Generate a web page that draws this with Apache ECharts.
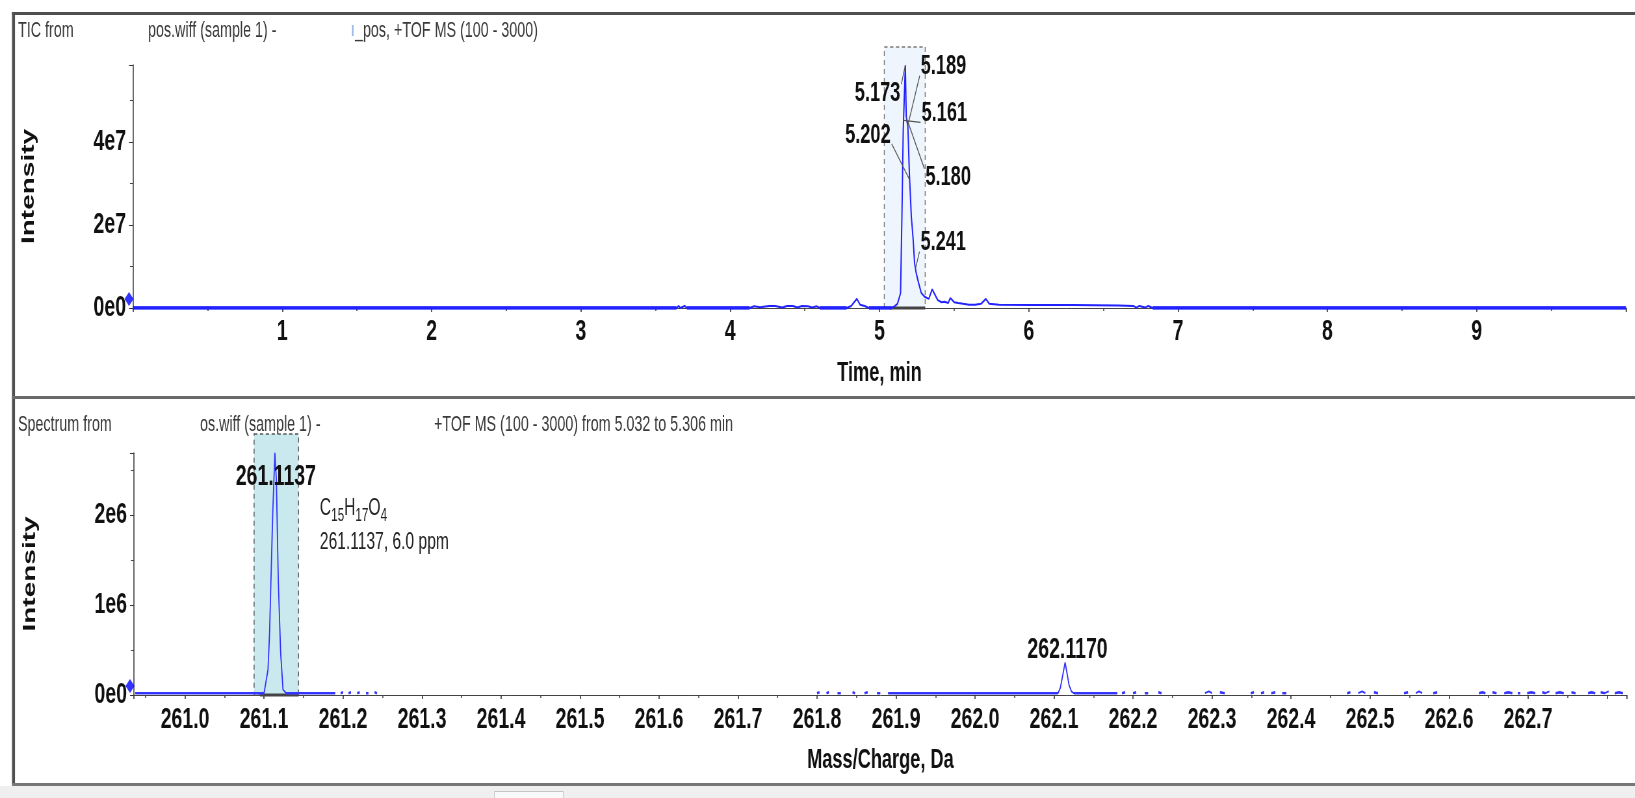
<!DOCTYPE html>
<html>
<head>
<meta charset="utf-8">
<script src="https://cdn.jsdelivr.net/npm/echarts@6/dist/echarts.min.js"></script>
<style>
html,body{margin:0;padding:0;background:#fff;overflow:hidden;width:1635px;height:798px}
#c{width:2515px;height:798px;transform:scaleX(0.65);transform-origin:0 0}
</style>
</head>
<body>
<div id="c"></div>
<script>
// ================= DATA =================
// TIC trace: [time (min), intensity (x1e7)]
const ticPoints = [
  [0.00,0],[3.64,0],[3.655,0.05],[3.665,0],[3.695,0.05],[3.71,0],
  [4.13,0],[4.16,0.04],[4.20,0.02],[4.26,0.05],[4.30,0.05],[4.35,0.01],[4.38,0.05],[4.42,0.05],
  [4.45,0.01],[4.48,0.05],[4.52,0.04],[4.55,0.01],[4.58,0.04],[4.60,0],
  [4.78,0],[4.81,0.05],[4.848,0.22],[4.87,0.08],[4.90,0.05],[4.93,0],
  [5.08,0],[5.10,0.04],[5.12,0.10],[5.141,0.36],[5.15,2.2],[5.159,4.3],[5.173,5.85],
  [5.179,4.61],[5.19,4.37],[5.20,3.25],[5.213,2.2],[5.224,1.72],[5.235,1.08],[5.246,0.84],
  [5.262,0.60],[5.28,0.36],[5.302,0.27],[5.33,0.22],[5.353,0.45],[5.39,0.19],[5.415,0.14],
  [5.436,0.15],[5.46,0.12],[5.474,0.24],[5.50,0.14],[5.527,0.12],[5.56,0.10],[5.60,0.08],
  [5.64,0.08],[5.68,0.10],[5.712,0.22],[5.735,0.10],[5.80,0.08],[6.00,0.07],[6.30,0.07],
  [6.60,0.06],[6.70,0.05],[6.72,0.01],[6.74,0.05],[6.78,0.01],[6.80,0.05],[6.83,0],[10.0,0]
];
const ticScale = 1e7;
const ticYTicks = ['0e0','2e7','4e7'];
const ticXTicks = [1,2,3,4,5,6,7,8,9];
const ticWindow = [5.032, 5.306];          // integrated window (min)
const ticLabelTimes = [5.189, 5.173, 5.161, 5.202, 5.180, 5.241];

// Spectrum: [m/z, intensity (x1e6)], null = no data
const specPoints = [
  [260.937,0.02],[261.00,0.02],[261.05,0.02],[261.10,0.02],
  [261.105,0.28],[261.107,0.69],[261.110,1.69],[261.111,2.02],[261.1137,2.69],[261.1156,2.39],
  [261.118,1.28],[261.121,0.47],[261.124,0.06],[261.128,0.02],[261.19,0.02],null,
  [261.197,0.02],[261.20,0.03],null,[261.207,0.02],[261.21,0.03],null,[261.218,0.02],[261.221,0.03],null,
  [261.229,0.02],[261.232,0.02],null,[261.240,0.03],[261.243,0.02],null,
  [261.800,0.02],[261.803,0.03],null,[261.812,0.02],[261.815,0.03],null,[261.826,0.02],[261.830,0.02],null,
  [261.845,0.03],[261.848,0.02],null,[261.860,0.02],[261.864,0.03],null,[261.876,0.02],[261.880,0.02],null,
  [261.890,0.02],[261.940,0.02],[261.968,0.02],[262.00,0.02],[262.05,0.02],[262.105,0.02],
  [262.108,0.08],[262.111,0.22],[262.114,0.36],[262.116,0.26],[262.119,0.11],[262.122,0.04],[262.125,0.02],
  [262.18,0.02],null,
  [262.186,0.02],[262.19,0.03],null,[262.200,0.02],[262.204,0.03],null,[262.215,0.02],[262.219,0.02],null,
  [262.232,0.03],[262.236,0.02],null,
  [262.291,0.02],[262.296,0.04],[262.300,0.02],null,[262.310,0.03],[262.316,0.02],null,
  [262.349,0.02],[262.353,0.03],null,[262.362,0.02],[262.366,0.03],null,[262.375,0.02],[262.380,0.03],null,
  [262.389,0.02],[262.394,0.02],null,
  [262.471,0.02],[262.475,0.03],null,[262.485,0.02],[262.490,0.04],[262.494,0.02],null,[262.505,0.03],[262.510,0.02],null,
  [262.543,0.02],[262.548,0.03],null,[262.558,0.02],[262.562,0.04],[262.566,0.02],null,[262.580,0.02],[262.585,0.03],null,
  [262.638,0.02],[262.642,0.03],[262.646,0.02],null,[262.655,0.03],[262.660,0.02],null,
  [262.670,0.02],[262.675,0.03],[262.680,0.02],null,[262.687,0.02],[262.690,0.02],null,
  [262.699,0.02],[262.704,0.03],[262.709,0.02],null,[262.718,0.03],[262.722,0.02],[262.727,0.04],null,
  [262.735,0.02],[262.740,0.03],[262.745,0.02],null,[262.755,0.03],[262.760,0.02],null,
  [262.776,0.02],[262.780,0.03],[262.785,0.02],null,[262.792,0.03],[262.797,0.02],[262.802,0.04],null,
  [262.810,0.02],[262.815,0.03],[262.820,0.02]
];
const specScale = 1e6;
const specYTicks = ['0e0','1e6','2e6'];
const specWindow = [261.0874, 261.1437];   // highlighted m/z window
const specLabelMz = [261.1137, 262.1170];
const formulaText = 'C{s|15}H{s|17}O{s|4}';
const formulaNote = '261.1137, 6.0 ppm';

const headerTop = ['TIC from', 'pos.wiff (sample 1) -', '_pos, +TOF MS (100 - 3000)'];
const headerBottom = ['Spectrum from', 'os.wiff (sample 1) -', '+TOF MS (100 - 3000) from 5.032 to 5.306 min'];

// ================= STYLE / LAYOUT =================
// The drawing is laid out on a wider canvas and compressed horizontally by S (see CSS).
const S = 0.65;
const H = v => v / S;                       // horizontal pixel -> canvas units
const FONT = '"Liberation Sans", Arial, sans-serif';
const ticLabelPlace = [[13,-59,'left'],[-5,28,'right'],[18,-7,'left'],[-19,-45,'right'],[19,60,'left'],[5,-26,'left']];
const specLabelPlace = [[1,24],[0,-26]];

function interp(pts, x) {
  const p = pts.filter(Boolean);
  for (let i = 0; i < p.length - 1; i++) {
    if (p[i][0] <= x && p[i+1][0] >= x) {
      const f = (x - p[i][0]) / (p[i+1][0] - p[i][0] || 1);
      return p[i][1] + f * (p[i+1][1] - p[i][1]);
    }
  }
  return 0;
}

const ticData = ticPoints.map(p => [p[0], p[1] * ticScale]);
const ticBase = ticPoints.map(p => p[1] === 0 ? [p[0], 0] : ['-', '-']);
const specData = specPoints.map(p => p ? [p[0], p[1] * specScale] : ['-', '-']);
const specBase = specPoints.map(p => (p && p[1] <= 0.03) ? [p[0], p[1] * specScale] : ['-', '-']);

const TIC_MIN = 0, TIC_MAX = 10;
const TIC_YMAX = 5.855e7;
const SPEC_MIN = 260.9354, SPEC_MAX = 262.825;
const SPEC_YMAX = 2.689e6;

function axisCommon(vertical) {
  return {
    axisLine: {show: true, lineStyle: {color: '#444', width: vertical ? 1.6 : 1}},
    axisTick: {show: true, length: vertical ? H(4) : 4, inside: false, lineStyle: {color: '#333', width: vertical ? 1 : 1.6}},
    minorTick: {show: true, splitNumber: 2, length: vertical ? H(3) : 3, lineStyle: {color: '#444', width: vertical ? 1 : 1.6}},
    splitLine: {show: false},
    minorSplitLine: {show: false}
  };
}

function boxRenderer(topValue, fill, stroke) {
  return function (params, api) {
    const p0 = api.coord([api.value(0), 0]);
    const p1 = api.coord([api.value(1), topValue]);
    return {
      type: 'group',
      children: [
        {type: 'rect', shape: {x: p0[0], y: p1[1], width: p1[0] - p0[0], height: p0[1] - p1[1]},
         style: {fill: fill, stroke: stroke, lineWidth: 1.4, lineDash: [5, 4]}},
        {type: 'line', shape: {x1: p0[0] + H(6), y1: p0[1], x2: p1[0], y2: p0[1]},
         style: {stroke: '#444', lineWidth: 3}}
      ]
    };
  };
}

const chart = echarts.init(document.getElementById('c'), null, {renderer: 'canvas'});

const option = {
  animation: false,
  backgroundColor: '#ffffff',
  grid: [
    {left: H(133), top: 65, width: H(1493), height: 243, outerBoundsMode: 'none', containLabel: false},
    {left: H(134), top: 453, width: H(1492.8), height: 242, outerBoundsMode: 'none', containLabel: false}
  ],
  xAxis: [
    Object.assign(axisCommon(false), {
      type: 'value', gridIndex: 0, min: TIC_MIN, max: TIC_MAX, interval: 1,
      name: 'Time, min', nameLocation: 'middle', nameGap: 51,
      nameTextStyle: {fontFamily: FONT, fontWeight: 'bold', fontSize: 28, color: '#111'},
      axisLabel: {
        margin: 9, fontFamily: FONT, fontWeight: 'bold', fontSize: 30, color: '#111',
        formatter: v => ticXTicks.indexOf(Math.round(v)) >= 0 && Math.abs(v - Math.round(v)) < 1e-6 ? String(Math.round(v)) : ''
      }
    }),
    Object.assign(axisCommon(false), {
      type: 'value', gridIndex: 1, min: SPEC_MIN, max: SPEC_MAX, splitNumber: 19, minInterval: 0.1, maxInterval: 0.1,
      name: 'Mass/Charge, Da', nameLocation: 'middle', nameGap: 51,
      nameTextStyle: {fontFamily: FONT, fontWeight: 'bold', fontSize: 28, color: '#111'},
      axisLabel: {
        margin: 10, fontFamily: FONT, fontWeight: 'bold', fontSize: 30, color: '#111',
        showMinLabel: false, showMaxLabel: false,
        formatter: v => (v < 260.99 || v > 262.75) ? '' : v.toFixed(1)
      }
    })
  ],
  yAxis: [
    Object.assign(axisCommon(true), {
      type: 'value', gridIndex: 0, min: 0, max: TIC_YMAX, interval: 2e7,
      name: 'Intensity', nameLocation: 'middle', nameRotate: 90, nameGap: H(95),
      nameTextStyle: {fontFamily: FONT, fontWeight: 'bold', fontSize: 28, color: '#111'},
      axisLabel: {
        margin: H(7), fontFamily: FONT, fontWeight: 'bold', fontSize: 30, color: '#111', showMaxLabel: false,
        formatter: v => ticYTicks[Math.round(v / 2e7)] || ''
      }
    }),
    Object.assign(axisCommon(true), {
      type: 'value', gridIndex: 1, min: 0, max: SPEC_YMAX, interval: 1e6,
      name: 'Intensity', nameLocation: 'middle', nameRotate: 90, nameGap: H(95),
      nameTextStyle: {fontFamily: FONT, fontWeight: 'bold', fontSize: 28, color: '#111'},
      axisLabel: {
        margin: H(7), fontFamily: FONT, fontWeight: 'bold', fontSize: 30, color: '#111', showMaxLabel: false,
        formatter: v => specYTicks[Math.round(v / 1e6)] || ''
      }
    })
  ],
  series: [
    // ---- top: TIC ----
    {type: 'custom', xAxisIndex: 0, yAxisIndex: 0, z: 1, silent: true, clip: false,
     data: [ticWindow], renderItem: boxRenderer(6.29e7, '#eef5fc', '#777')},
    {type: 'line', xAxisIndex: 0, yAxisIndex: 0, z: 3, data: ticBase, showSymbol: false, symbol: 'none',
     connectNulls: false, lineStyle: {color: '#0000ff', width: 3.5}, silent: true},
    {type: 'line', xAxisIndex: 0, yAxisIndex: 0, z: 4, data: ticData, showSymbol: false, symbol: 'none',
     lineStyle: {color: '#2222ff', width: 2}, silent: true},
    {type: 'custom', xAxisIndex: 0, yAxisIndex: 0, z: 6, silent: true, clip: false,
     data: ticLabelTimes.map(t => [t, interp(ticPoints, t) * ticScale]),
     renderItem: function (params, api) {
       const i = params.dataIndex;
       const t = api.value(0);
       const p = api.coord([t, api.value(1)]);
       const pl = ticLabelPlace[i];
       const lx = p[0] + H(pl[0]), ly = p[1] + pl[1];
       const sx = pl[2] === 'left' ? lx - H(1) : lx + H(1);
       const sy = ly + (pl[1] < 0 ? 9 : -9);
       return {type: 'group', children: [
         {type: 'line', shape: {x1: sx, y1: sy, x2: p[0], y2: p[1]}, style: {stroke: '#555', lineWidth: 1.3}},
         {type: 'text', x: lx, y: ly, style: {text: t.toFixed(3), align: pl[2], verticalAlign: 'middle',
           font: 'bold 28px ' + FONT, fill: '#111'}}
       ]};
     }},
    {type: 'scatter', xAxisIndex: 0, yAxisIndex: 0, z: 7, silent: true, clip: false,
     data: [[TIC_MIN, 0]], symbol: 'diamond', symbolSize: [H(9), 14], symbolOffset: [H(-4), -9],
     itemStyle: {color: '#0000ff'}},

    // ---- bottom: spectrum ----
    {type: 'custom', xAxisIndex: 1, yAxisIndex: 1, z: 1, silent: true, clip: false,
     data: [specWindow], renderItem: boxRenderer(2.9e6, '#c9e9ef', '#555')},
    {type: 'line', xAxisIndex: 1, yAxisIndex: 1, z: 3, data: specBase, showSymbol: false, symbol: 'none',
     connectNulls: false, lineStyle: {color: '#4a4aff', width: 2.5}, silent: true},
    {type: 'line', xAxisIndex: 1, yAxisIndex: 1, z: 4, data: specData, showSymbol: false, symbol: 'none',
     connectNulls: false, lineStyle: {color: '#3333ff', width: 1.8}, silent: true},
    {type: 'custom', xAxisIndex: 1, yAxisIndex: 1, z: 6, silent: true, clip: false,
     data: specLabelMz.map(m => [m, interp(specPoints, m) * specScale]),
     renderItem: function (params, api) {
       const i = params.dataIndex;
       const m = api.value(0);
       const p = api.coord([m, api.value(1)]);
       const pl = specLabelPlace[i];
       const children = [
         {type: 'text', x: p[0] + H(pl[0]), y: p[1] + pl[1], style: {text: m.toFixed(4), align: 'center',
           verticalAlign: 'middle', font: 'bold 30px ' + FONT, fill: '#111'}}
       ];
       if (i === 0) {
         children.push({type: 'text', x: p[0] + H(45), y: p[1] + 55, style: {
           text: formulaText, align: 'left', verticalAlign: 'middle', fontFamily: FONT, fontSize: 24,
           lineHeight: 34, fill: '#222',
           rich: {s: {fontFamily: FONT, fontSize: 18, lineHeight: 18, verticalAlign: 'bottom', fill: '#222'}}
         }});
         children.push({type: 'text', x: p[0] + H(45), y: p[1] + 89, style: {
           text: formulaNote, align: 'left', verticalAlign: 'middle', font: '24px ' + FONT, fill: '#222'}});
       }
       return {type: 'group', children: children};
     }},
    {type: 'scatter', xAxisIndex: 1, yAxisIndex: 1, z: 7, silent: true, clip: false,
     data: [[SPEC_MIN, 0]], symbol: 'diamond', symbolSize: [H(9), 14], symbolOffset: [H(-4), -9],
     itemStyle: {color: '#0000ff'}}
  ],
  graphic: [
    // frame
    {type: 'rect', left: H(12), top: 12, shape: {width: H(1623), height: 3}, style: {fill: '#4f4f4f'}, silent: true},
    {type: 'rect', left: H(12), top: 12, shape: {width: H(3), height: 773}, style: {fill: '#4f4f4f'}, silent: true},
    {type: 'rect', left: H(12), top: 396, shape: {width: H(1623), height: 3}, style: {fill: '#6a6a6a'}, silent: true},
    {type: 'rect', left: H(12), top: 783, shape: {width: H(1623), height: 3}, style: {fill: '#777'}, silent: true},
    {type: 'rect', left: 0, top: 786, shape: {width: H(1635), height: 12}, style: {fill: '#efefef'}, silent: true},
    {type: 'rect', left: H(494), top: 791, shape: {width: H(69), height: 8}, style: {fill: '#f9f9f9', stroke: '#c4c4c4', lineWidth: 1}, silent: true},
    // headers
    {type: 'text', x: H(18), y: 31, style: {text: headerTop[0], font: '22px ' + FONT, fill: '#3a3a3a', verticalAlign: 'middle'}, silent: true},
    {type: 'text', x: H(148), y: 31, style: {text: headerTop[1], font: '22px ' + FONT, fill: '#3a3a3a', verticalAlign: 'middle'}, silent: true},
    {type: 'rect', left: H(352), top: 25, shape: {width: H(1.5), height: 11}, style: {fill: '#8fb4e6'}, silent: true},
    {type: 'text', x: H(355), y: 31, style: {text: headerTop[2], font: '22px ' + FONT, fill: '#3a3a3a', verticalAlign: 'middle'}, silent: true},
    {type: 'text', x: H(18), y: 425, style: {text: headerBottom[0], font: '22px ' + FONT, fill: '#3a3a3a', verticalAlign: 'middle'}, silent: true},
    {type: 'text', x: H(200), y: 425, style: {text: headerBottom[1], font: '22px ' + FONT, fill: '#3a3a3a', verticalAlign: 'middle'}, silent: true},
    {type: 'text', x: H(434), y: 425, style: {text: headerBottom[2], font: '22px ' + FONT, fill: '#3a3a3a', verticalAlign: 'middle'}, silent: true}
  ]
};

chart.setOption(option);
</script>
</body>
</html>
